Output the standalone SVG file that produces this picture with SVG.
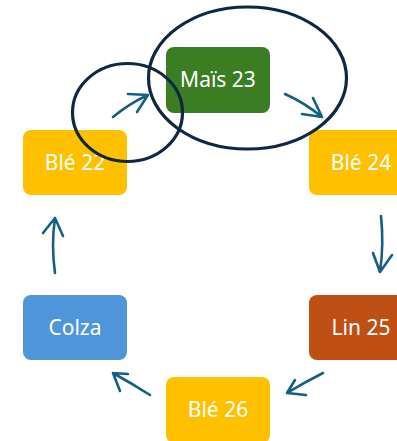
<svg xmlns="http://www.w3.org/2000/svg" width="397" height="441" viewBox="0 0 397 441">
<style>
.box{stroke:none}
.lbl{font-family:"Noto Sans","Open Sans",sans-serif;font-size:21px;fill:#fff;text-anchor:middle}
.arr{fill:none;stroke:#156082;stroke-width:2.6;stroke-linecap:round;stroke-linejoin:round}
.ring{fill:none;stroke:#0E2841;stroke-width:3.2}
</style>
<rect width="397" height="441" fill="#fff"/>
<g id="node-ble22"><rect class="box" x="23" y="130" width="104" height="65" rx="8" fill="#FFC000"/><text class="lbl" x="75" y="170">Blé 22</text></g>
<g id="node-mais23"><rect class="box" x="166" y="47" width="104" height="66" rx="8" fill="#3B7D23"/><text class="lbl" x="218" y="87">Maïs 23</text></g>
<g id="node-ble24"><rect class="box" x="309" y="130" width="104" height="65" rx="8" fill="#FFC000"/><text class="lbl" x="361" y="170">Blé 24</text></g>
<g id="node-lin25"><rect class="box" x="309" y="295" width="104" height="65" rx="8" fill="#C04F15"/><text class="lbl" x="361" y="335">Lin 25</text></g>
<g id="node-ble26"><rect class="box" x="166" y="377" width="104" height="66" rx="8" fill="#FFC000"/><text class="lbl" x="218" y="417">Blé 26</text></g>
<g id="node-colza"><rect class="box" x="23" y="295" width="104" height="65" rx="8" fill="#4E95D9"/><text class="lbl" x="75" y="335">Colza</text></g>
<g id="connectors">
<path class="arr" d="M113,117 Q130,103 148,95 M128,94 L148,95 L137,112"/>
<path class="arr" d="M285,94 Q305,103 322,117 M313,98 L322,117 L302,114"/>
<path class="arr" d="M381,216 Q384,245 380,272 M373,253 L380,272 L392,255"/>
<path class="arr" d="M323,373 Q305,382 287,393 M295,380 L287,393 L306,395"/>
<path class="arr" d="M150,395 Q131,383 113,373 M128,374 L113,373 L120,391"/>
<path class="arr" d="M55,273 Q51,245 55,218 M43,233 L55,218 L63,236"/>
</g>
<g id="highlights">
<ellipse class="ring" cx="127.5" cy="112.5" rx="55" ry="49"/>
<ellipse class="ring" cx="247.5" cy="78" rx="99" ry="71"/>
</g>
</svg>
